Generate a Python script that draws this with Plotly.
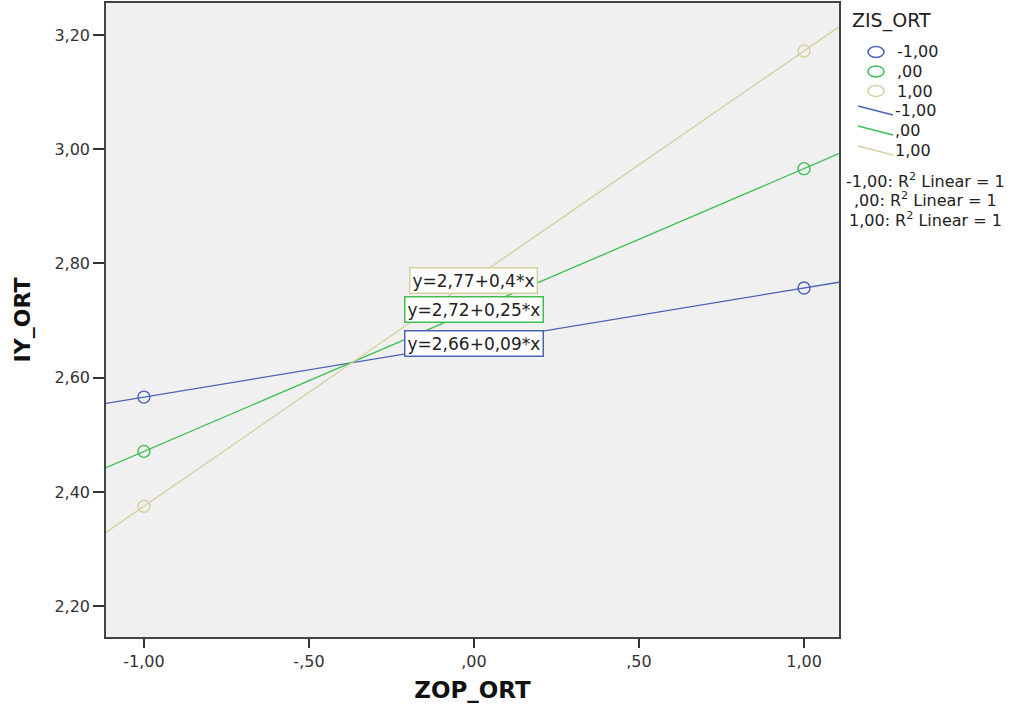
import numpy as np
import plotly.graph_objects as go

# ---- data ----
x_points = [-1.0, 1.0]
groups = ["-1,00", ",00", "1,00"]
y_blue = [2.566, 2.757]
y_green = [2.471, 2.966]
y_tan = [2.375, 3.172]
equations = ["y=2,66+0,09*x", "y=2,72+0,25*x", "y=2,77+0,4*x"]
intercepts = [2.66, 2.72, 2.77]
x_ticks = [-1.0, -0.5, 0.0, 0.5, 1.0]
x_ticktext = ["-1,00", "-,50", ",00", ",50", "1,00"]
y_ticks = [2.2, 2.4, 2.6, 2.8, 3.0, 3.2]
y_ticktext = ["2,20", "2,40", "2,60", "2,80", "3,00", "3,20"]
legend_title = "ZIS_ORT"

colors = ["#4A63B8", "#3CBE52", "#D6D0A0"]
series = [y_blue, y_green, y_tan]
xr = [-1.115, 1.106]
yr = [2.146, 3.256]

FONT = "DejaVu Sans, Verdana, sans-serif"
TXT = "#222222"

# plot-area geometry (pixels) for placing the hand-built legend
L, T, W, H = 106, 3, 733, 634
def px(xp):
    return (xp - L) / W
def py(yp):
    return 1 - (yp - T) / H

fig = go.Figure()

for name, ys, c in zip(groups, series, colors):
    fig.add_trace(go.Scatter(x=x_points, y=ys, mode="markers", name=name, showlegend=False,
                             marker=dict(symbol="circle-open", size=12, color=c,
                                         line=dict(width=1.4, color=c))))
for name, ys, c in zip(groups, series, colors):
    slope, icpt = np.polyfit(x_points, ys, 1)
    lx = np.array(xr)
    fig.add_trace(go.Scatter(x=lx, y=icpt + slope * lx, mode="lines", name=name, showlegend=False,
                             line=dict(color=c, width=1.3)))

for eq, ic, c in zip(equations, intercepts, colors):
    fig.add_annotation(x=0, y=ic, xref="x", yref="y", text=eq, showarrow=False,
                       font=dict(size=17, color=TXT, family=FONT),
                       bgcolor="white", bordercolor=c, borderwidth=1.5, borderpad=2)

# ---- legend (hand built to match the diagonal line swatches) ----
fig.add_annotation(xref="paper", yref="paper", x=px(850), y=py(20), xanchor="left", yanchor="middle",
                   text=legend_title, showarrow=False, font=dict(size=19, color=TXT, family=FONT))
for i, (g, c) in enumerate(zip(groups, colors)):
    cy = 52 + i * 19.5
    fig.add_shape(type="circle", xref="paper", yref="paper",
                  x0=px(868), x1=px(884), y0=py(cy - 5.5), y1=py(cy + 5.5),
                  line=dict(color=c, width=1.5))
    fig.add_annotation(xref="paper", yref="paper", x=px(895), y=py(cy), xanchor="left", yanchor="middle",
                       text=g, showarrow=False, font=dict(size=16, color=TXT, family=FONT))
for i, (g, c) in enumerate(zip(groups, colors)):
    cy = 110 + i * 20
    fig.add_shape(type="line", xref="paper", yref="paper",
                  x0=px(858), x1=px(893), y0=py(cy - 4), y1=py(cy + 5),
                  line=dict(color=c, width=1.5))
    fig.add_annotation(xref="paper", yref="paper", x=px(893), y=py(cy), xanchor="left", yanchor="middle",
                       text=g, showarrow=False, font=dict(size=16, color=TXT, family=FONT))
for i, g in enumerate(groups):
    fig.add_annotation(xref="paper", yref="paper", x=px(925), y=py(180 + i * 19.5),
                       xanchor="center", yanchor="middle", showarrow=False,
                       text=f"{g}: R<sup>2</sup> Linear = 1",
                       font=dict(size=16, color=TXT, family=FONT))

fig.update_layout(
    width=1013, height=709,
    margin=dict(l=L, r=1013 - L - W, t=T, b=709 - T - H, autoexpand=False),
    paper_bgcolor="white", plot_bgcolor="#F0F0F0",
    font=dict(family=FONT, size=16, color=TXT),
    showlegend=False,
    xaxis=dict(range=xr, tickvals=x_ticks, ticktext=x_ticktext, showgrid=False, zeroline=False,
               ticks="outside", ticklen=9, tickwidth=1.5, tickcolor="#333", showline=True,
               linecolor="#444", linewidth=1.5, mirror=True, tickfont=dict(size=16, color="#333"),
               title=dict(text="<b>ZOP_ORT</b>", font=dict(size=23, color="#111"), standoff=12)),
    yaxis=dict(range=yr, tickvals=y_ticks, ticktext=y_ticktext, showgrid=False, zeroline=False,
               ticks="outside", ticklen=11, tickwidth=1.5, tickcolor="#333", showline=True,
               linecolor="#444", linewidth=1.5, mirror=True, tickfont=dict(size=16, color="#333"),
               title=dict(text="<b>IY_ORT</b>", font=dict(size=22, color="#111"), standoff=18)),
)

fig.write_html("out.html", config={"displayModeBar": False},
               post_script="document.body.style.margin='0px';")
